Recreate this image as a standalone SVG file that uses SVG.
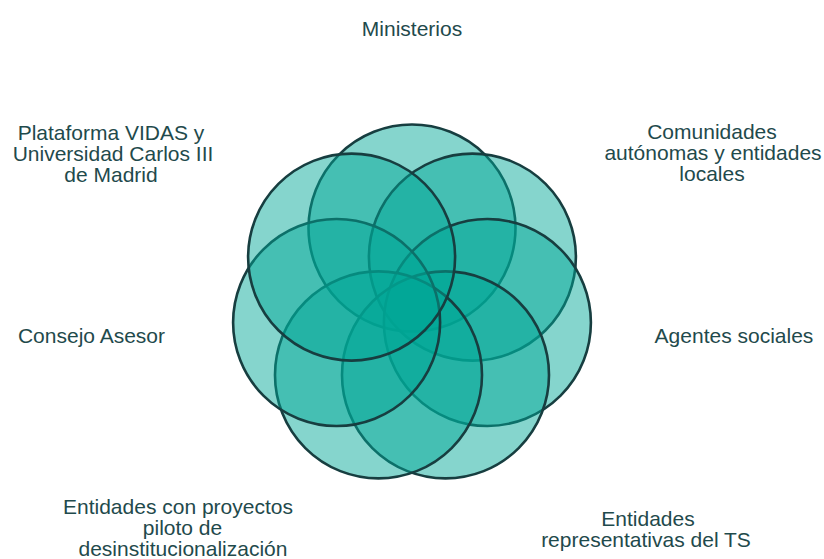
<svg xmlns="http://www.w3.org/2000/svg" width="824" height="559" viewBox="0 0 824 559">
  <style>
    .c { fill: #00a797; fill-opacity: 0.48; stroke: #173e40; stroke-width: 2.6; }
    .t { font-family: "Liberation Sans", Arial, sans-serif; font-size: 21px; fill: #1f4a4c; text-anchor: middle; }
  </style>
  <rect width="824" height="559" fill="#ffffff"/>
  <g id="node-ministerios">
    <circle class="c" cx="412" cy="228" r="103.5"/>
    <text class="t" x="412" y="36">Ministerios</text>
  </g>
  <g id="node-comunidades">
    <circle class="c" cx="472.4" cy="257.1" r="103.5"/>
    <text class="t" y="138.5"><tspan x="712">Comunidades</tspan><tspan x="713" y="160">autónomas y entidades</tspan><tspan x="712" y="181">locales</tspan></text>
  </g>
  <g id="node-agentes">
    <circle class="c" cx="487.4" cy="322.5" r="103.5"/>
    <text class="t" x="734" y="343">Agentes sociales</text>
  </g>
  <g id="node-entidades-ts">
    <circle class="c" cx="445.5" cy="374.9" r="103.5"/>
    <text class="t" y="526"><tspan x="648">Entidades</tspan><tspan x="646" y="547">representativas del TS</tspan></text>
  </g>
  <g id="node-entidades-piloto">
    <circle class="c" cx="378.5" cy="374.9" r="103.5"/>
    <text class="t" y="514"><tspan x="178">Entidades con proyectos</tspan><tspan x="182.5" y="535">piloto de</tspan><tspan x="183" y="555.5">desinstitucionalización</tspan></text>
  </g>
  <g id="node-consejo">
    <circle class="c" cx="336.6" cy="322.5" r="103.5"/>
    <text class="t" x="91.5" y="343">Consejo Asesor</text>
  </g>
  <g id="node-plataforma">
    <circle class="c" cx="351.6" cy="257.1" r="103.5"/>
    <text class="t" y="139.5"><tspan x="111">Plataforma VIDAS y</tspan><tspan x="113" y="160.5">Universidad Carlos III</tspan><tspan x="111" y="181.5">de Madrid</tspan></text>
  </g>
  <g id="connectors"/>
</svg>
